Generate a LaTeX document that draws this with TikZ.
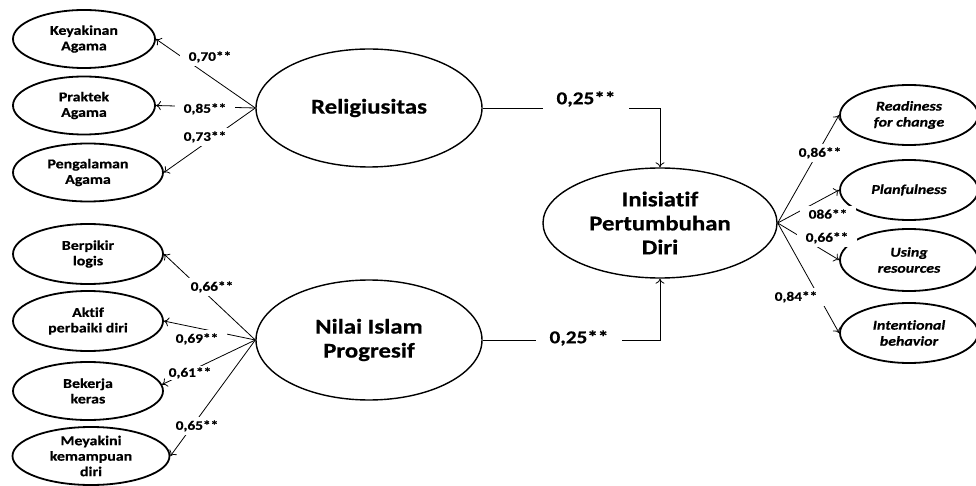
\documentclass[tikz,border=0pt]{standalone}
\usepackage{fontspec}
\setmainfont{Carlito}[FakeStretch=1.18,Ligatures=NoCommon,FakeBold=0.6]
\usetikzlibrary{arrows.meta,shapes.geometric}
\begin{document}
\begin{tikzpicture}[x=1pt,y=-1pt,
  sov/.style={ellipse,draw,line width=1.8pt,inner sep=0pt,minimum width=142pt,minimum height=58pt},
  bov/.style={ellipse,draw,line width=1.4pt,inner sep=0pt},
  stxt/.style={align=center,inner sep=0pt,font=\bfseries\fontsize{13.5}{15.5}\selectfont},
  itxt/.style={align=center,inner sep=0pt,font=\bfseries\itshape\fontsize{13.5}{16}\selectfont},
  btxt/.style={align=center,inner sep=0pt,font=\bfseries\fontsize{21}{24}\selectfont},
  lab/.style={fill=white,inner xsep=9pt,inner ysep=3pt,font=\bfseries\fontsize{13}{14}\selectfont},
  blab/.style={fill=white,inner xsep=14pt,inner ysep=5pt,font=\bfseries\fontsize{18}{20}\selectfont},
  arr/.style={line width=0.8pt,-{To[length=5pt,width=9pt]}}]
\useasboundingbox (0,0) rectangle (976,486);
% small left ellipses
\node[sov] (kk) at (84,39) {};
\node[stxt] (kkt) at (kk) {Keyakinan\\Agama};
\node[sov] (pa) at (84,105.5) {};
\node[stxt] (pat) at (pa) {Praktek\\Agama};
\node[sov,minimum width=150pt] (pg) at (88,172.5) {};
\node[stxt] (pgt) at (pg) {Pengalaman\\Agama};
\node[sov,minimum width=150pt,minimum height=60pt] (bl) at (88,254) {};
\node[stxt] (blt) at (bl) {Berpikir\\logis};
\node[sov,minimum width=150pt,minimum height=60pt] (ap) at (88,321) {};
\node[stxt] (apt) at (ap) {Aktif\\perbaiki diri};
\node[sov,minimum width=150pt] (bk) at (88,391) {};
\node[stxt] (bkt) at (bk) {Bekerja\\keras};
\node[sov,minimum width=157pt,minimum height=58pt] (mk) at (91,456) {};
\node[stxt] (mkt) at (mk) {Meyakini\\kemampuan\\diri};
% big ellipses
\node[bov,minimum width=226pt,minimum height=118pt] (rel) at (369,108) {};
\node[btxt] (relt) at (rel) {Religiusitas};
\node[bov,minimum width=226pt,minimum height=120pt] (nip) at (369,340) {};
\node[btxt] (nipt) at (nip) {Nilai Islam\\Progresif};
\node[bov,minimum width=234pt,minimum height=110pt] (ini) at (660,223) {};
\node[btxt] (init) at (ini) {Inisiatif\\Pertumbuhan\\Diri};
% right ellipses
\node[sov,minimum width=138pt,minimum height=60pt] (rc) at (909,115) {};
\node[itxt] (rct) at (rc) {Readiness\\for change};
\node[sov,minimum width=138pt,minimum height=60pt] (pl) at (909,190) {};
\node[itxt] (plt) at (pl) {Planfulness};
\node[sov,minimum width=138pt,minimum height=62pt] (ur) at (909,260) {};
\node[itxt] (urt) at (ur) {Using\\resources};
\node[sov,minimum width=138pt,minimum height=60pt] (ib) at (909,333) {};
\node[itxt] (ibt) at (ib) {Intentional\\behavior};
% connectors
\draw[arr] (rel.west) -- (kk.east);
\draw[arr] (rel.west) -- (pa.east);
\draw[arr] (rel.west) -- (pg.east);
\draw[arr] (nip.west) -- (bl.east);
\draw[arr] (nip.west) -- (ap.east);
\draw[arr] (nip.west) -- (bk.5);
\draw[arr] (nip.west) -- (mk.east);
\draw[arr] (rel.east) -| (ini.north);
\draw[arr] (nip.east) -| (ini.south);
\draw[arr] (ini.east) -- (rc.west);
\draw[arr] (ini.east) -- (pl.west);
\draw[arr] (ini.east) -- (ur.west);
\draw[arr] (ini.east) -- (ib.west);
% labels
\node[lab] (l1) at (210,57) {0,70**};
\node[lab] (l2) at (205,109) {0,85**};
\node[lab] (l3) at (205,137) {0,73**};
\node[lab] (l4) at (212,287) {0,66**};
\node[lab] (l5) at (197,339) {0,69**};
\node[lab,inner xsep=3pt,inner ysep=1pt] (l6) at (190,373) {0,61**};
\node[lab] (l7) at (197,426) {0,65**};
\node[blab,minimum height=24pt] (l8) at (586,99) {0,25**};
\node[blab] (l9) at (579,338) {0,25**};
\node[lab] (r1) at (820,153) {0,86**};
\node[lab] (r2) at (828,214) {086**};
\node[lab] (r3) at (827,238) {0,66**};
\node[lab] (r4) at (796,297) {0,84**};
\end{tikzpicture}
\end{document}
